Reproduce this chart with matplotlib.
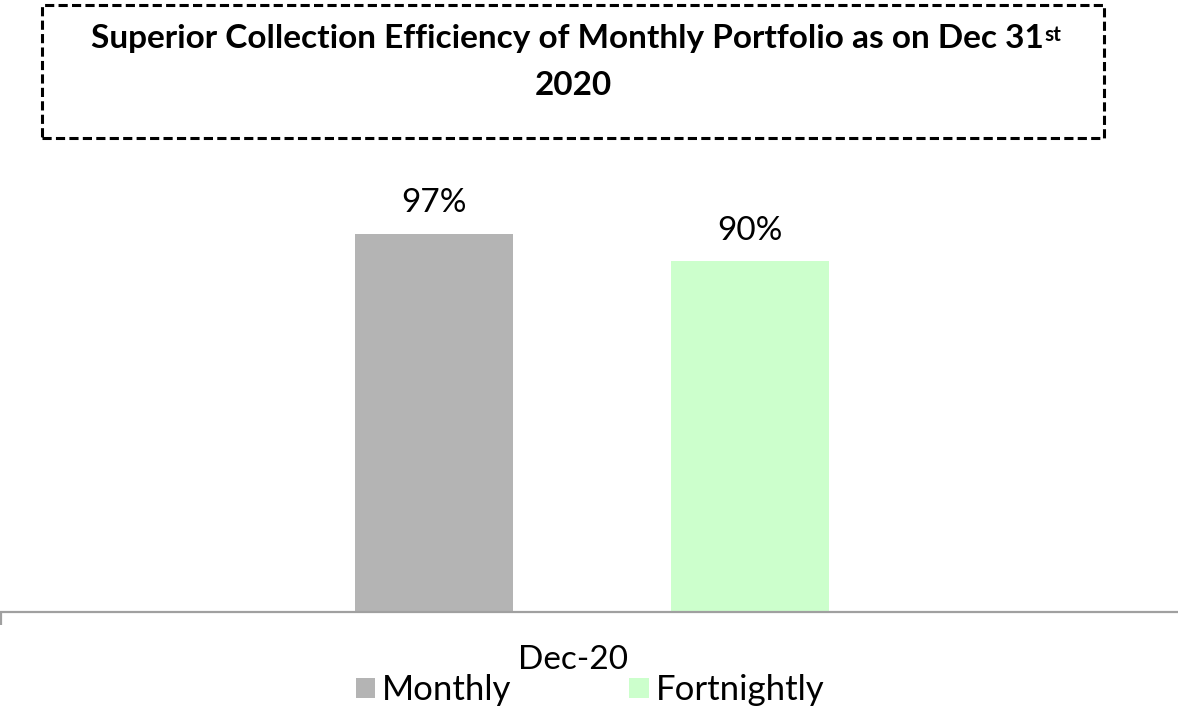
import numpy as np
import matplotlib.pyplot as plt
from matplotlib.patches import Rectangle
from matplotlib.transforms import ScaledTranslation

#Data
Category = ["Dec-20"]
Series = ["Monthly", "Fortnightly"]
Efficiency = [0.97, 0.90]
Colors = ["#B4B4B4", "#CCFFCC"]

Title_line1 = "Superior Collection Efficiency of Monthly Portfolio as on Dec 31"
Title_sup = "st"
Title_line2 = "2020"

plt.rcParams["font.family"] = ["Lato", "DejaVu Sans"]

W, H = 1178, 710
fig = plt.figure(figsize=(W / 100, H / 100), dpi=100)

def fx(px):
    return px / W

def fy(py):
    return 1 - py / H

#Axes placed so the baseline sits near the bottom, spanning the full width
ax_left, ax_right = 1, 1183
ax_bottom, ax_top = 612, 144
ax = fig.add_axes([fx(ax_left), fy(ax_bottom), (ax_right - ax_left) / W, (ax_bottom - ax_top) / H])

#Bars
x = np.arange(len(Category))
width = 0.1335
offsets = [-width, width]
for name, val, col, off in zip(Series, Efficiency, Colors, offsets):
    bars = ax.bar(x + off, [val], width=width, color=col, label=name)
    ax.bar_label(bars, fmt="{:.0%}", padding=11, fontsize=24, color="#000000")

ax.set_xlim(-0.5, 0.5)
ax.set_ylim(0, 1.2)

#Axis styling
for s in ["top", "right", "left"]:
    ax.spines[s].set_visible(False)
ax.spines["bottom"].set_color("#A0A0A0")
ax.spines["bottom"].set_linewidth(1.6)
ax.set_yticks([])
ax.set_xticks(x)
ax.set_xticklabels(Category, fontsize=24)
ax.tick_params(axis="x", which="major", length=0, pad=24)
ax.set_xticks([-0.5, 0.5], minor=True)
ax.tick_params(axis="x", which="minor", length=9.5, width=1.6, color="#A0A0A0")
for lbl in ax.get_xticklabels():
    lbl.set_transform(lbl.get_transform() + ScaledTranslation(-0.19, 0, fig.dpi_scale_trans))

#Legend
leg = ax.legend(loc="center", bbox_to_anchor=(fx(590), fy(690)), bbox_transform=fig.transFigure,
                ncol=2, frameon=False, fontsize=25, handlelength=0.55, handleheight=0.5,
                handletextpad=0.2, columnspacing=3.4, borderpad=0)

#Title box
fig.patches.append(Rectangle((fx(42), fy(138)), fx(1104) - fx(42), fy(5) - fy(138),
                             transform=fig.transFigure, fill=False, edgecolor="#000000",
                             linewidth=2.2, linestyle=(0, (3.0, 1.4))))
t1 = fig.text(fx(567), fy(48), Title_line1, ha="center", va="baseline",
              fontsize=24, fontweight="bold")
ax.annotate(Title_sup, xy=(1, 1), xycoords=t1, xytext=(1, -1), textcoords="offset points",
            ha="left", va="top", fontsize=15, fontweight="bold", annotation_clip=False)
fig.text(fx(573), fy(95), Title_line2, ha="center", va="baseline", fontsize=24, fontweight="bold")

fig.savefig("out.png", dpi=100)
